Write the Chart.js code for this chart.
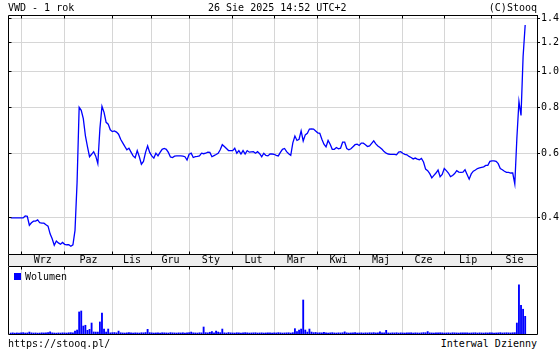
<!DOCTYPE html>
<html>
<head>
<meta charset="utf-8">
<script src="https://cdn.jsdelivr.net/npm/chart.js"></script>
<style>
body{margin:0;background:#fff;}
#wrap{position:relative;width:560px;height:350px;font-family:"DejaVu Sans Mono",monospace;font-size:10px;color:#000;}
#wrap canvas{position:absolute;left:0;}
.t{position:absolute;white-space:pre;line-height:12px;}
.sq{position:absolute;left:14px;top:273px;width:7px;height:7px;background:#0000ff;}
</style>
</head>
<body>
<div id="wrap">
<canvas id="price" width="560" height="266" style="top:0;width:560px;height:266px"></canvas>
<canvas id="vol" width="560" height="69" style="top:266px;width:560px;height:69px"></canvas>
<div class="t" style="left:8px;top:2px">VWD - 1 rok</div>
<div class="t" style="left:208px;top:2px">26 Sie 2025 14:52 UTC+2</div>
<div class="t" style="right:23px;top:2px">(C)Stooq</div>
<div class="sq"></div>
<div class="t" style="left:25px;top:271px">Wolumen</div>
<div class="t" style="left:8px;top:338px">https://stooq.pl/</div>
<div class="t" style="right:23px;top:338px">Interwal Dzienny</div>
</div>
<script>
// daily close, 26.08.2024 - 26.08.2025 (index = trading day)
var closePrices = [
0.400,0.400,0.400,0.400,0.400,0.400,0.400,0.405,0.404,0.382,
0.388,0.392,0.392,0.395,0.388,0.387,0.387,0.383,0.380,0.362,
0.351,0.337,0.346,0.342,0.339,0.343,0.339,0.338,0.338,0.335,
0.338,0.370,0.500,0.800,0.785,0.745,0.670,0.625,0.587,0.596,
0.606,0.589,0.562,0.700,0.805,0.775,0.728,0.720,0.695,0.687,
0.690,0.685,0.676,0.655,0.640,0.626,0.613,0.619,0.604,0.590,
0.583,0.610,0.587,0.560,0.570,0.603,0.628,0.603,0.590,0.582,
0.600,0.590,0.603,0.615,0.618,0.615,0.603,0.586,0.584,0.589,
0.590,0.590,0.590,0.589,0.587,0.575,0.596,0.600,0.584,0.587,
0.588,0.590,0.600,0.598,0.600,0.604,0.603,0.587,0.591,0.595,
0.600,0.613,0.633,0.626,0.618,0.610,0.610,0.610,0.619,0.600,
0.610,0.597,0.610,0.597,0.610,0.604,0.605,0.606,0.600,0.606,
0.598,0.587,0.600,0.592,0.590,0.597,0.597,0.596,0.592,0.590,
0.603,0.615,0.618,0.606,0.598,0.592,0.640,0.668,0.650,0.655,
0.690,0.648,0.673,0.680,0.698,0.699,0.698,0.690,0.682,0.680,
0.655,0.635,0.624,0.650,0.635,0.615,0.615,0.622,0.617,0.619,
0.643,0.643,0.618,0.613,0.617,0.625,0.633,0.635,0.630,0.639,
0.639,0.633,0.626,0.628,0.638,0.648,0.636,0.628,0.622,0.615,
0.606,0.600,0.597,0.596,0.596,0.596,0.594,0.604,0.606,0.600,
0.596,0.594,0.588,0.584,0.579,0.582,0.578,0.576,0.581,0.568,
0.543,0.538,0.528,0.514,0.522,0.530,0.540,0.518,0.525,0.545,
0.538,0.530,0.518,0.522,0.528,0.538,0.533,0.532,0.533,0.541,
0.525,0.510,0.527,0.536,0.540,0.545,0.547,0.549,0.551,0.556,
0.556,0.570,0.572,0.572,0.570,0.562,0.545,0.541,0.536,0.532,
0.532,0.530,0.530,0.495,0.660,0.830,0.760,1.100,1.340
];

// volume (arbitrary units, no scale shown)
var volumes = [
10,12,9,11,10,12,14,10,11,20,
12,10,11,9,10,12,11,13,14,22,
12,10,9,11,10,12,11,10,13,14,
12,31,41,227,237,82,90,38,48,113,
21,20,20,124,216,51,20,51,12,14,
15,12,30,13,11,10,12,14,11,10,
12,11,10,13,12,15,48,14,12,10,
11,12,10,13,12,11,10,14,12,11,
10,12,11,13,10,12,14,20,12,11,
10,13,12,72,14,12,18,25,12,30,
20,14,51,12,10,15,12,11,10,13,
12,10,11,14,12,10,11,12,13,10,
11,12,10,11,12,13,10,12,11,14,
12,10,11,12,13,10,14,55,25,41,
51,350,41,20,51,20,14,16,12,13,
12,18,11,10,12,14,11,10,12,11,
13,22,12,10,11,12,14,10,11,12,
10,12,11,13,12,14,11,12,22,13,
12,38,11,10,12,11,13,10,12,11,
10,12,11,13,10,12,11,10,12,14,
13,25,12,11,10,12,11,13,12,10,
11,12,10,13,12,11,10,12,11,13,
12,10,11,12,13,10,12,11,10,12,
11,13,12,10,11,12,14,11,12,13,
12,11,13,14,113,505,296,255,182
];

// first trading day of each month (index) and month names
var monthStarts = [5,26,49,68,86,107,127,148,168,189,209,232];
var monthNames = ["Wrz","Paz","Lis","Gru","Sty","Lut","Mar","Kwi","Maj","Cze","Lip","Sie"];
var priceTicks = [0.4,0.6,0.8,1.0,1.2,1.4];

var xMin = -1.3, xMax = 253.7;
var yMin = 0.319, yMax = 1.427;
var volMax = 700;
var gridColor = "#d6d6d6";
var blue = "#0000ff";

Chart.defaults.font.family = '"DejaVu Sans Mono", monospace';
Chart.defaults.font.size = 10;
Chart.defaults.color = "#000";

function crisp(p){ return Math.round(p - 0.5) + 0.5; }

function monthTicks(scale){
  scale.ticks = monthStarts.map(function(v){ return {value:v}; });
}
function labelTicks(scale){
  scale.ticks = monthStarts.map(function(v,i){
    var next = i < monthStarts.length-1 ? monthStarts[i+1] : xMax;
    return {value:(v+next)/2};
  });
}

// black frame, month band and small inner tick marks
var framePlugin = {
  id:"frame",
  beforeDraw:function(chart, args, opts){
    var a = chart.chartArea;
    if(opts.band){
      chart.ctx.fillStyle = "#eeeeee";
      chart.ctx.fillRect(a.left, a.bottom, a.right-a.left, opts.band);
    }
  },
  afterDraw:function(chart, args, opts){
    var a = chart.chartArea, c = chart.ctx;
    var l = crisp(a.left), r = crisp(a.right), t = crisp(a.top), b = crisp(a.bottom);
    var xs = chart.scales.x, ys = chart.scales.y;
    c.save();
    c.strokeStyle = "#000";
    c.lineWidth = 1;
    c.beginPath();
    c.rect(l, t, r-l, b-t);
    if(opts.band){
      c.moveTo(l, b); c.lineTo(l, b+opts.band);
      c.moveTo(r, b); c.lineTo(r, b+opts.band);
    }
    xs.ticks.forEach(function(tk){
      var px = crisp(xs.getPixelForValue(tk.value));
      c.moveTo(px, t); c.lineTo(px, t+3);
      if(opts.band){ c.moveTo(px, b); c.lineTo(px, b-3); }
    });
    if(opts.band){
      ys.ticks.forEach(function(tk){
        var py = crisp(ys.getPixelForValue(tk.value));
        c.moveTo(l, py); c.lineTo(l+3, py);
      });
    }
    c.stroke();
    c.restore();
  }
};

var priceChart = new Chart(document.getElementById("price"), {
  type:"line",
  data:{
    datasets:[{
      data:closePrices.map(function(v,i){ return {x:i, y:v}; }),
      borderColor:blue,
      borderWidth:1.3,
      pointRadius:0,
      tension:0,
      fill:false
    }]
  },
  options:{
    responsive:false,
    animation:false,
    events:[],
    layout:{padding:{left:8, top:15, right:0, bottom:0}},
    plugins:{legend:{display:false}, tooltip:{enabled:false}, frame:{band:12}},
    scales:{
      x:{
        type:"linear", min:xMin, max:xMax, bounds:"data",
        afterBuildTicks:monthTicks,
        afterFit:function(s){ s.height = 0; },
        grid:{color:gridColor, drawTicks:false},
        border:{display:false},
        ticks:{display:false}
      },
      months:{
        type:"linear", axis:"x", position:"bottom", min:xMin, max:xMax, bounds:"data",
        afterBuildTicks:labelTicks,
        afterFit:function(s){ s.height = 12; },
        grid:{display:false, drawTicks:false},
        border:{display:false},
        ticks:{padding:0, autoSkip:false, maxRotation:0, callback:function(v,i){ return monthNames[i]; }}
      },
      y:{
        type:"logarithmic", position:"right", min:yMin, max:yMax, bounds:"data",
        afterBuildTicks:function(s){ s.ticks = priceTicks.map(function(v){ return {value:v}; }); },
        afterFit:function(s){ s.width = 23; },
        grid:{color:gridColor, tickColor:"#000", tickLength:3},
        border:{color:"#000"},
        ticks:{padding:1, callback:function(v){ return v.toFixed(1); }}
      }
    }
  },
  plugins:[framePlugin]
});

var volChart = new Chart(document.getElementById("vol"), {
  type:"bar",
  data:{
    datasets:[{
      data:volumes.map(function(v,i){ return {x:i, y:v}; }),
      backgroundColor:blue,
      borderWidth:0,
      barThickness:1.2
    }]
  },
  options:{
    responsive:false,
    animation:false,
    events:[],
    layout:{padding:{left:8, right:23, top:0, bottom:1}},
    plugins:{legend:{display:false}, tooltip:{enabled:false}, frame:{band:0}},
    scales:{
      x:{
        type:"linear", min:xMin, max:xMax, bounds:"data", offset:false,
        afterBuildTicks:monthTicks,
        afterFit:function(s){ s.height = 0; },
        grid:{color:gridColor, drawTicks:false, offset:false},
        border:{display:false},
        ticks:{display:false}
      },
      y:{display:false, min:0, max:volMax}
    }
  },
  plugins:[framePlugin]
});
</script>
</body>
</html>
